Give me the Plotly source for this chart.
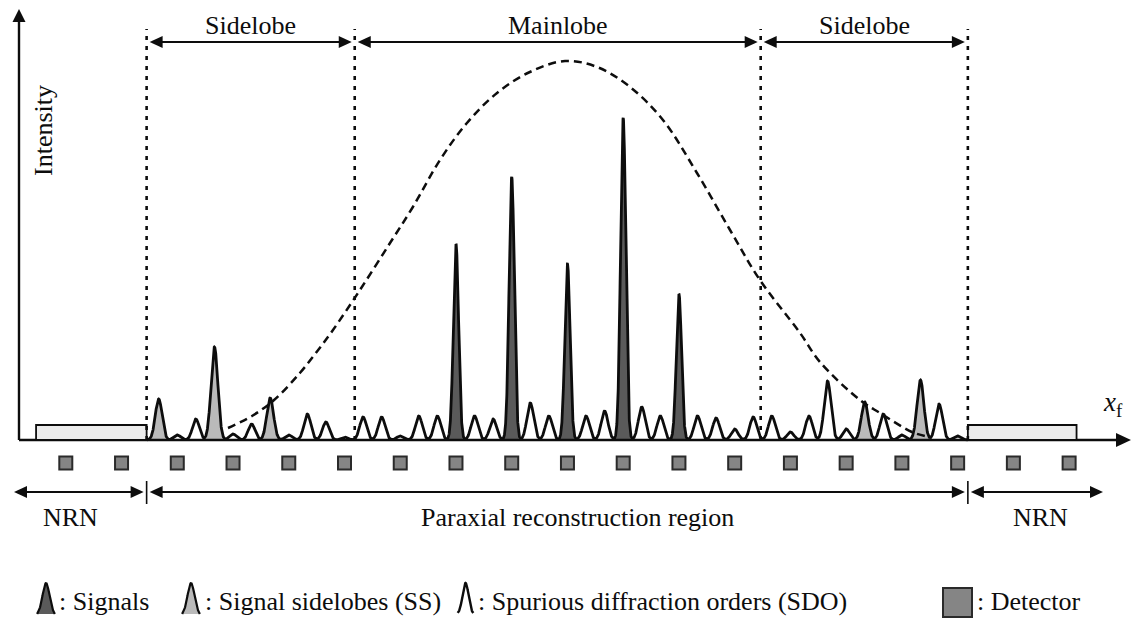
import numpy as np
import plotly.graph_objects as go

# ---------------- data ----------------
# x positions are in units of the diffraction-order spacing (detector pitch = 3 units)
signal_pos = [21, 24, 27, 30, 33]
signal_int = [196, 263, 176, 322, 146]

sidelobe_pos = [5, 8, 11, 43, 46]
sidelobe_int = [41, 93, 42, 38, 60]

sdo_pos = [6, 7, 9, 10, 12, 13, 14, 15, 16, 17, 18, 19, 20, 22, 23, 25, 26, 28, 29,
           31, 32, 34, 35, 36, 37, 38, 39, 40, 41, 42, 44, 45, 47, 48]
sdo_int = [5, 21, 6, 16, 5, 26, 18, 3, 23, 23, 4, 24, 24, 24, 21, 37, 24, 24, 29,
           33, 24, 24, 22, 11, 23, 24, 8, 24, 59, 11, 26, 5, 36, 4]

detector_pos = [0, 3, 6, 9, 12, 15, 18, 21, 24, 27, 30, 33, 36, 39, 42, 45, 48, 51, 54]

# pixel-aperture envelope (dashed)
envelope_x = [8.73, 10.02, 11.21, 12.60, 13.50, 14.38, 15.83, 17.45, 18.68, 20.14,
              21.59, 23.21, 24.98, 26.87, 28.59, 30.37, 32.14, 33.97, 35.75, 37.36,
              39.52, 40.59, 42.74, 43.82, 45.54, 46.24]
envelope_y = [12, 24, 40, 67, 88, 110, 150, 197, 233, 280,
              317, 347, 368, 379, 373, 353, 320, 267, 210, 160,
              107, 78, 40, 27, 8, 4]

region_edges = [4.35, 15.55, 37.4, 48.55]
region_labels = ["Sidelobe", "Mainlobe", "Sidelobe"]
nrn_spans = [(-1.6, 4.35), (48.55, 54.4)]
nrn_height = 15

legend_labels = [": Signals", ": Signal sidelobes (SS)",
                 ": Spurious diffraction orders (SDO)", ": Detector"]

# ---------------- layout helpers ----------------
W, H = 1132, 629
PX0, PITCH, BASE = 65.8, 18.58, 440.0
FONT = "Liberation Serif, Times New Roman, serif"
INK = "#0d0d0d"


def X(px):
    return (px - PX0) / PITCH


def Y(py):
    return BASE - py


def PX(x):
    return PX0 + x * PITCH


shapes = []
annotations = []


def seg(x0, y0, x1, y1, width=2.0, dash=None, color=INK):
    ln = dict(color=color, width=width)
    if dash:
        ln["dash"] = dash
    shapes.append(dict(type="line", xref="x", yref="y",
                       x0=X(x0), y0=Y(y0), x1=X(x1), y1=Y(y1), line=ln))


def head(tx, ty, dx, dy, L=13, hw=6):
    bx, by = tx - dx * L, ty - dy * L
    nx, ny = -dy, dx
    p1 = (bx + nx * hw, by + ny * hw)
    p2 = (bx - nx * hw, by - ny * hw)
    path = (f"M{X(tx)},{Y(ty)} L{X(p1[0])},{Y(p1[1])} "
            f"L{X(p2[0])},{Y(p2[1])} Z")
    shapes.append(dict(type="path", xref="x", yref="y", path=path,
                       fillcolor=INK, line=dict(width=0)))


def double_arrow(xa, xb, py):
    seg(xa + 6, py, xb - 6, py, width=2.2)
    head(xa, py, -1, 0)
    head(xb, py, 1, 0)


def text(px, py, s, size=26, **kw):
    annotations.append(dict(x=X(px), y=Y(py), xref="x", yref="y", text=s,
                            showarrow=False, font=dict(family=FONT, size=size, color=INK),
                            **kw))


fig = go.Figure()

# ---------------- peaks ----------------
SIG_S = 2.6 / PITCH
SIG_P = 3.4 / PITCH


def peak_fill(pos, h, s, color):
    t = np.linspace(-3.2, 3.2, 90) * s
    xs = np.concatenate([[pos + t[0]], pos + t, [pos + t[-1]]])
    ys = np.concatenate([[0], h * np.exp(-0.5 * (t / s) ** 2), [0]])
    fig.add_trace(go.Scatter(x=xs, y=ys, mode="lines", fill="toself",
                             fillcolor=color, line=dict(width=0),
                             hoverinfo="skip"))


for p, h in zip(signal_pos, signal_int):
    peak_fill(p, h, SIG_S, "#5a5a5a")
for p, h in zip(sidelobe_pos, sidelobe_int):
    peak_fill(p, h, SIG_P, "#bababa")

# one continuous outline over every order
xs = np.linspace(region_edges[0], region_edges[3], 9000)
ys = np.zeros_like(xs)
for plist, hlist, s in ((signal_pos, signal_int, SIG_S),
                        (sidelobe_pos, sidelobe_int, SIG_P),
                        (sdo_pos, sdo_int, SIG_P)):
    for p, h in zip(plist, hlist):
        ys += h * np.exp(-0.5 * ((xs - p) / s) ** 2)
fig.add_trace(go.Scatter(x=xs, y=ys, mode="lines",
                         line=dict(color=INK, width=2.8), hoverinfo="skip"))

# envelope
fig.add_trace(go.Scatter(x=envelope_x, y=envelope_y, mode="lines",
                         line=dict(color=INK, width=2.5, dash="8px,5px",
                                   shape="spline", smoothing=1.0),
                         hoverinfo="skip"))

# detectors
fig.add_trace(go.Scatter(x=detector_pos, y=[Y(463)] * len(detector_pos),
                         mode="markers",
                         marker=dict(symbol="square", size=13, color="#858585",
                                     line=dict(color="#2a2a2a", width=2)),
                         hoverinfo="skip"))

# ---------------- axes ----------------
seg(19, 440, 19, 20, width=2.4)
head(19, 9, 0, -1, L=13, hw=6.5)
seg(19, 440, 1118, 440, width=2.4)
head(1131, 440, 1, 0, L=15, hw=7)

# NRN bars
for a, b in nrn_spans:
    shapes.append(dict(type="rect", xref="x", yref="y", x0=a, x1=b, y0=0,
                       y1=nrn_height, fillcolor="#ebebeb",
                       line=dict(color=INK, width=1.8)))

# region boundaries
edge_px = [PX(e) for e in region_edges]
for e in edge_px:
    seg(e, 440, e, 29, width=2.6, dash="4px,6px")

for i, lab in enumerate(region_labels):
    a, b = edge_px[i], edge_px[i + 1]
    double_arrow(a + 3, b - 3, 42)
    text((a + b) / 2, 25, lab)

# reconstruction-region arrows
double_arrow(14, edge_px[0] - 3, 492)
double_arrow(edge_px[0] + 3, edge_px[3] - 3, 492)
double_arrow(edge_px[3] + 3, 1103, 492)
for e in (edge_px[0], edge_px[3]):
    seg(e, 481, e, 504, width=1.6)
text(70, 517, "NRN")
text(577, 517, "Paraxial reconstruction region")
text(1040, 517, "NRN")

# axis labels
text(43, 131, "Intensity", textangle=-90)
text(1113, 404, "<i>x</i><sub>f</sub>", size=27)

# ---------------- legend ----------------
LEG_BASE = 614
LEG_H = 31


def glyph(cx, s_px, fillcolor=None):
    s = s_px / PITCH
    t = np.linspace(-2.6, 2.6, 80) * s
    gx = X(cx) + t
    gy = Y(LEG_BASE) + LEG_H * np.exp(-0.5 * (t / s) ** 2)
    if fillcolor:
        gx = np.concatenate([[gx[0]], gx, [gx[-1]]])
        gy = np.concatenate([[Y(LEG_BASE)], gy, [Y(LEG_BASE)]])
        fig.add_trace(go.Scatter(x=gx, y=gy, mode="lines", fill="toself",
                                 fillcolor=fillcolor, line=dict(color=INK, width=2.2),
                                 hoverinfo="skip"))
    else:
        fig.add_trace(go.Scatter(x=gx, y=gy, mode="lines",
                                 line=dict(color=INK, width=2.4), hoverinfo="skip"))


glyph(46, 3.4, "#5a5a5a")
glyph(191, 3.4, "#bababa")
glyph(465.5, 3.0)
shapes.append(dict(type="rect", xref="x", yref="y", x0=X(943), x1=X(972),
                   y0=Y(617), y1=Y(588), fillcolor="#858585",
                   line=dict(color="#2a2a2a", width=2)))

for px, lab in zip((57, 203, 476, 975), legend_labels):
    text(px, 601, lab, xanchor="left")

fig.update_layout(
    width=W, height=H,
    margin=dict(l=0, r=0, t=0, b=0),
    paper_bgcolor="white", plot_bgcolor="white",
    showlegend=False,
    xaxis=dict(range=[X(0), X(W)], visible=False, fixedrange=True),
    yaxis=dict(range=[Y(H), Y(0)], visible=False, fixedrange=True),
    shapes=shapes, annotations=annotations,
)

fig.write_html("out.html")
